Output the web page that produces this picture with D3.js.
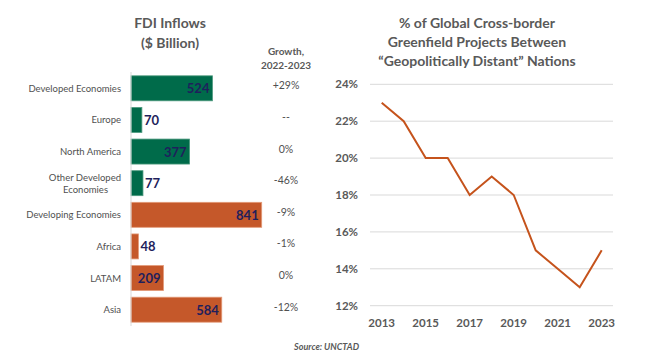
<!DOCTYPE html>
<html>
<head>
<meta charset="utf-8">
<script src="https://cdn.jsdelivr.net/npm/d3@7"></script>
<style>
  body { margin: 0; background: #fff; }
  text { font-family: Lato, "Open Sans", sans-serif; }
</style>
</head>
<body>
<script>
var w = 650;
var h = 362;

// left chart data
var regions = ["Developed Economies", "Europe", "North America", "Other Developed Economies",
               "Developing Economies", "Africa", "LATAM", "Asia"];
var inflows = [524, 70, 377, 77, 841, 48, 209, 584];
var growth = ["+29%", "--", "0%", "-46%", "-9%", "-1%", "0%", "-12%"];
var groups = ["dev", "dev", "dev", "dev", "ing", "ing", "ing", "ing"];

// right chart data
var years = [2013, 2014, 2015, 2016, 2017, 2018, 2019, 2020, 2021, 2022, 2023];
var share = [23, 22, 20, 20, 18, 19, 18, 15, 14, 13, 15];
var yTicks = [12, 14, 16, 18, 20, 22, 24];
var xTicks = [2013, 2015, 2017, 2019, 2021, 2023];

var gray = "#595959";
var navy = "#1f1f5c";
var green = "#006b4a";
var orange = "#c5582a";
var lineColor = "#c5531c";

var svg = d3.select("body")
    .append("svg")
        .attr("width", w)
        .attr("height", h);

// ---- left: FDI inflows bars ----
var x = d3.scaleLinear().domain([0, 841]).range([131, 261.7]);
var y = d3.scaleBand().domain(regions).range([72.5, 325.5]).paddingInner(0.21).paddingOuter(0.105);

svg.append("text")
    .attr("x", 170).attr("y", 28)
    .attr("text-anchor", "middle")
    .attr("font-size", 14).attr("font-weight", "bold").attr("fill", gray)
    .text("FDI Inflows");
svg.append("text")
    .attr("x", 170).attr("y", 48)
    .attr("text-anchor", "middle")
    .attr("font-size", 14).attr("font-weight", "bold").attr("fill", gray)
    .text("($ Billion)");

svg.append("text")
    .attr("x", 286).attr("y", 55)
    .attr("text-anchor", "middle")
    .attr("font-size", 10).attr("font-weight", "bold").attr("fill", gray)
    .text("Growth,");
svg.append("text")
    .attr("x", 286).attr("y", 69)
    .attr("text-anchor", "middle")
    .attr("font-size", 10).attr("font-weight", "bold").attr("fill", gray)
    .text("2022-2023");

svg.selectAll("rect.bar")
    .data(inflows)
    .enter()
    .append("rect")
        .attr("class", "bar")
        .attr("x", x(0))
        .attr("y", function(d, i) { return y(regions[i]); })
        .attr("width", function(d) { return x(d) - x(0); })
        .attr("height", y.bandwidth())
        .attr("fill", function(d, i) { return groups[i] == "dev" ? green : orange; })
        .attr("stroke", function(d, i) { return groups[i] == "dev" ? "#4d9a7e" : "#e39a78"; })
        .attr("stroke-width", 0.8);

svg.append("line")
    .attr("x1", x(0)).attr("x2", x(0))
    .attr("y1", 72).attr("y2", 326)
    .attr("stroke", "#d9d9d9").attr("stroke-width", 1);

svg.selectAll("text.val")
    .data(inflows)
    .enter()
    .append("text")
        .attr("class", "val")
        .attr("x", function(d) { return d > 150 ? x(d) - 3 : x(d) + 2; })
        .attr("y", function(d, i) { return y(regions[i]) + y.bandwidth() / 2 + 5; })
        .attr("text-anchor", function(d) { return d > 150 ? "end" : "start"; })
        .attr("font-size", 13).attr("font-weight", "bold").attr("fill", navy)
        .text(function(d) { return d; });

var catLabels = svg.selectAll("text.cat")
    .data(regions)
    .enter()
    .append("text")
        .attr("class", "cat")
        .attr("x", 121)
        .attr("y", function(d) { return y(d) + y.bandwidth() / 2 + 3.5; })
        .attr("text-anchor", "end")
        .attr("font-size", 9.5).attr("fill", "#505050");

catLabels.each(function(d) {
    var t = d3.select(this);
    if (d == "Other Developed Economies") {
        t.attr("y", y(d) + y.bandwidth() / 2 - 2);
        t.append("tspan").attr("x", 121).text("Other Developed");
        t.append("tspan").attr("x", 108).attr("dy", 11.5).text("Economies");
    } else {
        t.text(d);
    }
});

svg.selectAll("text.growth")
    .data(growth)
    .enter()
    .append("text")
        .attr("class", "growth")
        .attr("x", 286)
        .attr("y", function(d, i) { return y(regions[i]) + y.bandwidth() / 2 + 1; })
        .attr("text-anchor", "middle")
        .attr("font-size", 10.5).attr("fill", "#505050")
        .text(function(d) { return d; });

svg.append("text")
    .attr("x", 359).attr("y", 350)
    .attr("text-anchor", "end")
    .attr("font-size", 9).attr("font-weight", "bold").attr("font-style", "italic").attr("fill", gray)
    .text("Source: UNCTAD");

// ---- right: geopolitically distant projects line ----
var xs = d3.scaleLinear().domain([2013, 2023]).range([381.7, 601.7]);
var ys = d3.scaleLinear().domain([12, 24]).range([305.7, 84.3]);

var titleLines = ["% of Global Cross-border", "Greenfield Projects Between", "\u201cGeopolitically Distant\u201d Nations"];
svg.selectAll("text.rtitle")
    .data(titleLines)
    .enter()
    .append("text")
        .attr("class", "rtitle")
        .attr("x", 477)
        .attr("y", function(d, i) { return 28 + i * 19; })
        .attr("text-anchor", "middle")
        .attr("font-size", 14).attr("font-weight", "bold").attr("fill", gray)
        .text(function(d) { return d; });

svg.selectAll("line.grid")
    .data(yTicks)
    .enter()
    .append("line")
        .attr("class", "grid")
        .attr("x1", 370).attr("x2", 613)
        .attr("y1", function(d) { return ys(d); })
        .attr("y2", function(d) { return ys(d); })
        .attr("stroke", "#d9d9d9").attr("stroke-width", 1);

svg.selectAll("text.ytick")
    .data(yTicks)
    .enter()
    .append("text")
        .attr("class", "ytick")
        .attr("x", 358)
        .attr("y", function(d) { return ys(d) + 4; })
        .attr("text-anchor", "end")
        .attr("font-size", 11.5).attr("font-weight", "bold").attr("fill", gray)
        .text(function(d) { return d + "%"; });

svg.selectAll("text.xtick")
    .data(xTicks)
    .enter()
    .append("text")
        .attr("class", "xtick")
        .attr("x", function(d) { return xs(d); })
        .attr("y", 327)
        .attr("text-anchor", "middle")
        .attr("font-size", 11.5).attr("font-weight", "bold").attr("fill", gray)
        .text(function(d) { return d; });

var line = d3.line()
    .x(function(d, i) { return xs(years[i]); })
    .y(function(d) { return ys(d); });

svg.append("path")
    .datum(share)
    .attr("d", line)
    .attr("fill", "none")
    .attr("stroke", lineColor)
    .attr("stroke-width", 2);
</script>
</body>
</html>
